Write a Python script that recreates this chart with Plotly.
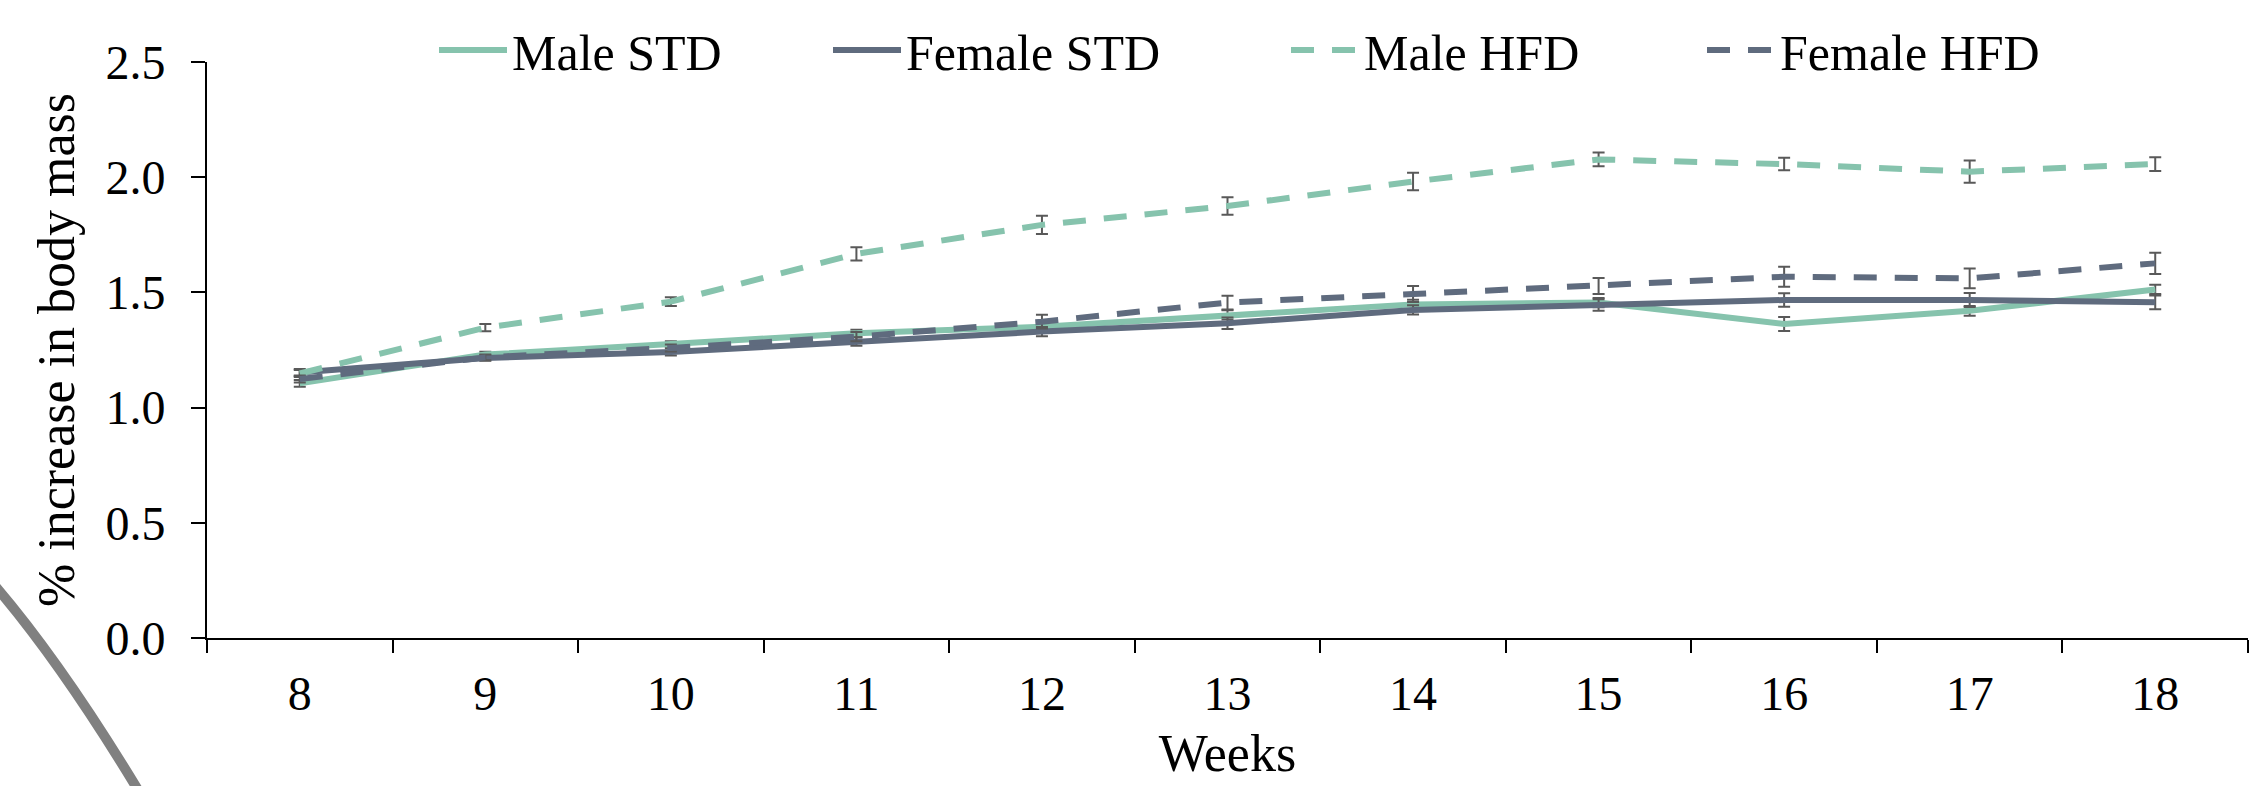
import plotly.graph_objects as go

weeks = ["8", "9", "10", "11", "12", "13", "14", "15", "16", "17", "18"]

male_std = [1.105, 1.23, 1.276, 1.323, 1.351, 1.402, 1.448, 1.456, 1.363, 1.42, 1.513]
male_std_err = [0.015, 0.012, 0.012, 0.015, 0.02, 0.02, 0.02, 0.02, 0.03, 0.021, 0.02]

female_std = [1.152, 1.215, 1.241, 1.286, 1.33, 1.366, 1.424, 1.445, 1.467, 1.467, 1.457]
female_std_err = [0.015, 0.012, 0.015, 0.018, 0.02, 0.025, 0.02, 0.025, 0.029, 0.03, 0.03]

male_hfd = [1.148, 1.347, 1.46, 1.667, 1.793, 1.875, 1.981, 2.077, 2.057, 2.024, 2.057]
male_hfd_err = [0.015, 0.016, 0.019, 0.029, 0.04, 0.038, 0.038, 0.03, 0.027, 0.048, 0.03]

female_hfd = [1.124, 1.218, 1.259, 1.308, 1.373, 1.456, 1.493, 1.528, 1.568, 1.561, 1.626]
female_hfd_err = [0.015, 0.012, 0.015, 0.02, 0.03, 0.03, 0.035, 0.035, 0.043, 0.043, 0.046]

GREEN = "#86C3AD"
SLATE = "#5F6B7E"
ERR = "#595959"
FONT = "Liberation Serif"

series = [
    ("Male STD", male_std, male_std_err, GREEN, "solid", "legend"),
    ("Female STD", female_std, female_std_err, SLATE, "solid", "legend2"),
    ("Male HFD", male_hfd, male_hfd_err, GREEN, "23px,18px", "legend3"),
    ("Female HFD", female_hfd, female_hfd_err, SLATE, "23px,18px", "legend4"),
]

fig = go.Figure()
for name, vals, errs, color, dash, leg in series:
    fig.add_trace(go.Scatter(
        x=weeks, y=vals, name=name, mode="lines",
        line=dict(color=color, width=6, dash=dash),
        error_y=dict(type="data", array=errs, visible=True,
                     color=ERR, thickness=2, width=6),
        legend=leg, showlegend=True,
    ))

# plot area in pixels: x 207..2248, y 62..638
L, R, T, B = 207, 2248, 62, 638
W, H = 2259, 786
pw, ph = R - L, B - T

def px(x):
    return (x - L) / pw

def py(y):
    return (B - y) / ph

leg_common = dict(orientation="h", yanchor="middle", xanchor="left",
                  y=py(50), bgcolor="rgba(0,0,0,0)", itemwidth=68,
                  font=dict(family=FONT, size=50, color="black"))
text_starts = [514, 908, 1366, 1782]
leg_x = [px(t - 80) for t in text_starts]

fig.update_layout(
    width=W, height=H,
    showlegend=True,
    margin=dict(l=L, r=W - R, t=T, b=H - B),
    paper_bgcolor="white", plot_bgcolor="white",
    font=dict(family=FONT, size=48, color="black"),
    legend=dict(x=leg_x[0], **leg_common),
    legend2=dict(x=leg_x[1], **leg_common),
    legend3=dict(x=leg_x[2], **leg_common),
    legend4=dict(x=leg_x[3], **leg_common),
    xaxis=dict(
        type="category", tickson="boundaries", range=[-0.5, 10.5],
        showline=True, linecolor="black", linewidth=2,
        ticks="outside", ticklen=13, tickwidth=2, tickcolor="black",
        showgrid=False, zeroline=False, ticklabelstandoff=12,
        tickfont=dict(family=FONT, size=48, color="black"),
        title=dict(text="Weeks", font=dict(family=FONT, size=52, color="black"), standoff=16),
    ),
    yaxis=dict(
        range=[0, 2.5], dtick=0.5, tickformat=".1f",
        showline=True, linecolor="black", linewidth=2,
        ticks="outside", ticklen=14, tickwidth=2, tickcolor="black",
        showgrid=False, zeroline=False, ticklabelstandoff=16,
        tickfont=dict(family=FONT, size=48, color="black"),
        title=dict(text="% increase in body mass", font=dict(family=FONT, size=52, color="black"), standoff=14),
    ),
    shapes=[dict(
        type="path", xref="paper", yref="paper",
        path=f"M {px(-10)},{py(580)} Q {px(64)},{py(665)} {px(150)},{py(810)}",
        line=dict(color="#808080", width=10), layer="above",
    )],
)

fig.write_html("out.html", config={"displayModeBar": False},
               post_script="document.body.style.margin='0';document.body.style.overflow='hidden';")
